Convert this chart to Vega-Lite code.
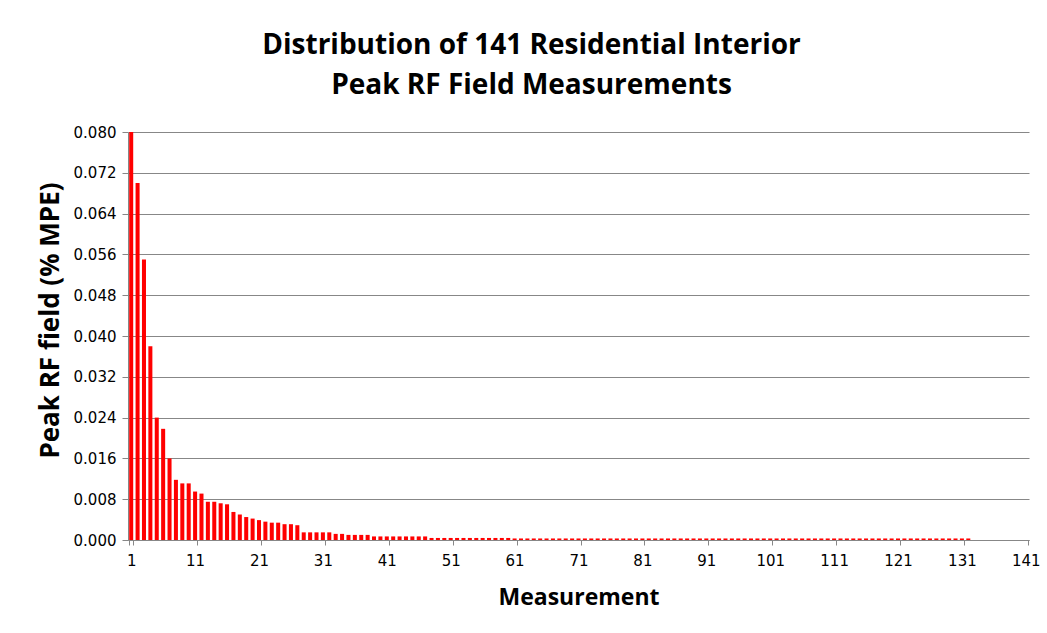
{
  "$schema": "https://vega.github.io/schema/vega-lite/v6.json",
  "autosize": {"type": "none"},
  "width": 901,
  "height": 408,
  "padding": {"left": 128, "top": 132, "right": 18, "bottom": 93},
  "background": "white",
  "title": {
    "text": ["Distribution of 141 Residential Interior", "Peak RF Field Measurements"],
    "font": "Open Sans",
    "fontSize": 28,
    "fontWeight": "bold",
    "color": "#000000",
    "anchor": "middle",
    "dx": -47,
    "lineHeight": 40,
    "offset": 25
  },
  "data": {"values": [
    {"m": 1, "v": 0.0800}, {"m": 2, "v": 0.0700}, {"m": 3, "v": 0.0550}, {"m": 4, "v": 0.0380},
    {"m": 5, "v": 0.0240}, {"m": 6, "v": 0.0218}, {"m": 7, "v": 0.0160}, {"m": 8, "v": 0.0118},
    {"m": 9, "v": 0.0111}, {"m": 10, "v": 0.0111}, {"m": 11, "v": 0.0095}, {"m": 12, "v": 0.0091},
    {"m": 13, "v": 0.0075}, {"m": 14, "v": 0.0075}, {"m": 15, "v": 0.0072}, {"m": 16, "v": 0.0070},
    {"m": 17, "v": 0.0055}, {"m": 18, "v": 0.0050}, {"m": 19, "v": 0.0045}, {"m": 20, "v": 0.0042},
    {"m": 21, "v": 0.0039}, {"m": 22, "v": 0.0036}, {"m": 23, "v": 0.0034}, {"m": 24, "v": 0.0034},
    {"m": 25, "v": 0.0031}, {"m": 26, "v": 0.0031}, {"m": 27, "v": 0.0029}, {"m": 28, "v": 0.0015},
    {"m": 29, "v": 0.0015}, {"m": 30, "v": 0.0015}, {"m": 31, "v": 0.0015}, {"m": 32, "v": 0.0015},
    {"m": 33, "v": 0.0012}, {"m": 34, "v": 0.0012}, {"m": 35, "v": 0.0010}, {"m": 36, "v": 0.0010},
    {"m": 37, "v": 0.0010}, {"m": 38, "v": 0.0010}, {"m": 39, "v": 0.0007}, {"m": 40, "v": 0.0007},
    {"m": 41, "v": 0.0007}, {"m": 42, "v": 0.0007}, {"m": 43, "v": 0.0007}, {"m": 44, "v": 0.0007},
    {"m": 45, "v": 0.0007}, {"m": 46, "v": 0.0007}, {"m": 47, "v": 0.0007}, {"m": 48, "v": 0.0004},
    {"m": 49, "v": 0.0004}, {"m": 50, "v": 0.0004}, {"m": 51, "v": 0.0004}, {"m": 52, "v": 0.0004},
    {"m": 53, "v": 0.0004}, {"m": 54, "v": 0.0004}, {"m": 55, "v": 0.0004}, {"m": 56, "v": 0.0004},
    {"m": 57, "v": 0.0004}, {"m": 58, "v": 0.0004}, {"m": 59, "v": 0.0004}, {"m": 60, "v": 0.0004},
    {"m": 61, "v": 0.0003}, {"m": 62, "v": 0.0003}, {"m": 63, "v": 0.0003}, {"m": 64, "v": 0.0003},
    {"m": 65, "v": 0.0003}, {"m": 66, "v": 0.0003}, {"m": 67, "v": 0.0003}, {"m": 68, "v": 0.0003},
    {"m": 69, "v": 0.0003}, {"m": 70, "v": 0.0003}, {"m": 71, "v": 0.0003}, {"m": 72, "v": 0.0003},
    {"m": 73, "v": 0.0003}, {"m": 74, "v": 0.0003}, {"m": 75, "v": 0.0003}, {"m": 76, "v": 0.0003},
    {"m": 77, "v": 0.0003}, {"m": 78, "v": 0.0003}, {"m": 79, "v": 0.0003}, {"m": 80, "v": 0.0003},
    {"m": 81, "v": 0.0003}, {"m": 82, "v": 0.0003}, {"m": 83, "v": 0.0003}, {"m": 84, "v": 0.0003},
    {"m": 85, "v": 0.0003}, {"m": 86, "v": 0.0003}, {"m": 87, "v": 0.0003}, {"m": 88, "v": 0.0003},
    {"m": 89, "v": 0.0003}, {"m": 90, "v": 0.0003}, {"m": 91, "v": 0.0003}, {"m": 92, "v": 0.0003},
    {"m": 93, "v": 0.0003}, {"m": 94, "v": 0.0003}, {"m": 95, "v": 0.0003}, {"m": 96, "v": 0.0003},
    {"m": 97, "v": 0.0003}, {"m": 98, "v": 0.0003}, {"m": 99, "v": 0.0003}, {"m": 100, "v": 0.0003},
    {"m": 101, "v": 0.0003}, {"m": 102, "v": 0.0003}, {"m": 103, "v": 0.0003}, {"m": 104, "v": 0.0003},
    {"m": 105, "v": 0.0003}, {"m": 106, "v": 0.0003}, {"m": 107, "v": 0.0003}, {"m": 108, "v": 0.0003},
    {"m": 109, "v": 0.0003}, {"m": 110, "v": 0.0003}, {"m": 111, "v": 0.0003}, {"m": 112, "v": 0.0003},
    {"m": 113, "v": 0.0003}, {"m": 114, "v": 0.0003}, {"m": 115, "v": 0.0003}, {"m": 116, "v": 0.0003},
    {"m": 117, "v": 0.0003}, {"m": 118, "v": 0.0003}, {"m": 119, "v": 0.0003}, {"m": 120, "v": 0.0003},
    {"m": 121, "v": 0.0003}, {"m": 122, "v": 0.0003}, {"m": 123, "v": 0.0003}, {"m": 124, "v": 0.0003},
    {"m": 125, "v": 0.0003}, {"m": 126, "v": 0.0003}, {"m": 127, "v": 0.0003}, {"m": 128, "v": 0.0003},
    {"m": 129, "v": 0.0003}, {"m": 130, "v": 0.0003}, {"m": 131, "v": 0.0003}, {"m": 132, "v": 0.0003},
    {"m": 133, "v": 0}, {"m": 134, "v": 0}, {"m": 135, "v": 0}, {"m": 136, "v": 0},
    {"m": 137, "v": 0}, {"m": 138, "v": 0}, {"m": 139, "v": 0}, {"m": 140, "v": 0},
    {"m": 141, "v": 0}
  ]},
  "mark": {"type": "bar", "color": "#FF0000"},
  "encoding": {
    "x": {
      "field": "m",
      "type": "ordinal",
      "scale": {"paddingInner": 0.37, "paddingOuter": 0.185},
      "axis": {
        "title": "Measurement",
        "titleFont": "Open Sans",
        "titleFontSize": 23,
        "titleFontWeight": "bold",
        "titleColor": "#000000",
        "titlePadding": 18,
        "values": [1, 11, 21, 31, 41, 51, 61, 71, 81, 91, 101, 111, 121, 131, 141],
        "labelAngle": 0,
        "labelFont": "DejaVu Sans",
        "labelFontSize": 15,
        "labelColor": "#000000",
        "labelPadding": 8,
        "tickBand": "extent",
        "tickSize": 5,
        "tickColor": "#878787",
        "domainColor": "#878787",
        "grid": false
      }
    },
    "y": {
      "field": "v",
      "type": "quantitative",
      "scale": {"domain": [0, 0.08], "nice": false},
      "axis": {
        "title": "Peak RF field (% MPE)",
        "titleFont": "Open Sans",
        "titleFontSize": 26,
        "titleFontWeight": "bold",
        "titleColor": "#000000",
        "titlePadding": 10,
        "titleY": 188,
        "values": [0, 0.008, 0.016, 0.024, 0.032, 0.04, 0.048, 0.056, 0.064, 0.072, 0.08],
        "format": ".3f",
        "labelFont": "DejaVu Sans",
        "labelFontSize": 15,
        "labelColor": "#000000",
        "labelPadding": 6,
        "tickSize": 6,
        "tickColor": "#878787",
        "domainColor": "#878787",
        "gridColor": "#878787",
        "gridOpacity": 1
      }
    }
  },
  "config": {"view": {"stroke": null}}
}
